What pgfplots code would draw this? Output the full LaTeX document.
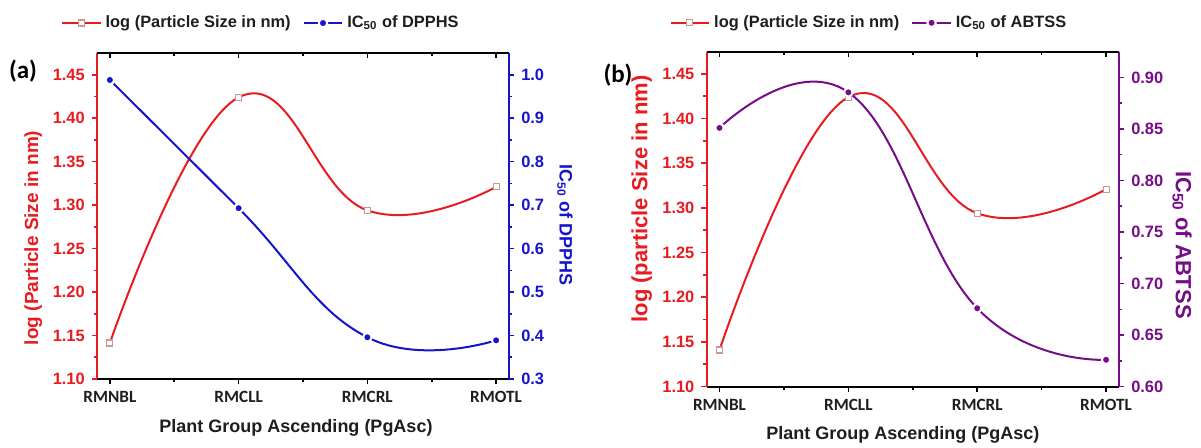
\documentclass[border=0pt]{standalone}
\usepackage{fontspec}
\setmainfont{Liberation Sans}
\newfontfamily\carlito{Carlito}
\usepackage{pgfplots}
\pgfplotsset{compat=1.18}

\definecolor{cred}{RGB}{232,28,32}
\definecolor{cblue}{RGB}{20,20,205}
\definecolor{cpurp}{RGB}{118,12,135}
\definecolor{sqedge}{RGB}{205,150,150}
\definecolor{txt}{RGB}{30,30,30}

\pgfplotsset{
  base/.style={scale only axis, xmin=-0.1, xmax=3.1,
    /pgf/number format/assume math mode=true,
    tick label style={font=\bfseries\fontsize{8.2}{9}\selectfont},
    major tick length=2.6pt, minor tick length=1.6pt,
    every tick/.append style={line width=0.8pt},
    axis line style={line width=1pt,-},
    xtick={0,1,2,3}, minor xtick={0.5,1.5,2.5}},
  xcats/.style={xticklabels={RMNBL,RMCLL,RMCRL,RMOTL},
    xticklabel style={font=\carlito\bfseries\fontsize{8.6}{9}\selectfont, txt},
    xtick style={black}},
  topticks/.style={base, axis x line*=top, axis y line=none, tick align=inside,
    xticklabels={}, ymin=0, ymax=1, x axis line style={black}, xtick style={black}},
  sizeline/.style={cred, line width=1pt, smooth, tension=0.75, mark=square*, mark size=1.5pt,
    mark options={fill=white, draw=sqedge, line width=0.6pt}},
  dotline/.style={#1, line width=1pt, smooth, tension=0.75, mark=*, mark size=2.1pt,
    mark options={fill=#1, draw=white, line width=1pt}},
  legimg/.style={legend image code/.code={
    \draw[mark repeat=2,mark phase=2,##1] plot coordinates {(0cm,0cm)(0.34cm,0cm)(0.68cm,0cm)};}},
}

\begin{document}
\begin{tikzpicture}
\useasboundingbox (0,0) rectangle (600.5pt,223.5pt);

% ---------- panel (a)
\begin{axis}[base, xcats, at={(48.5pt,34pt)}, anchor=south west, width=206pt, height=163pt,
  axis x line*=bottom, axis y line*=left, tick align=outside,
  x axis line style={black}, y axis line style={cred},
  ymin=1.10, ymax=1.475, ytick={1.10,1.15,1.20,1.25,1.30,1.35,1.40,1.45},
  minor ytick={1.125,1.175,1.225,1.275,1.325,1.375,1.425},
  ytick style={cred},
  yticklabel style={cred, /pgf/number format/.cd, fixed, fixed zerofill, precision=2},
  xlabel={Plant Group Ascending (PgAsc)},
  xlabel style={at={(axis description cs:0.483,-0.150)}, anchor=center, txt,
    font=\bfseries\fontsize{9}{10}\selectfont},
  ylabel={log (Particle Size in nm)},
  ylabel style={at={(axis description cs:-0.155,0.433)}, anchor=center, cred,
    font=\bfseries\fontsize{9.5}{10}\selectfont}]
\addplot[sizeline] coordinates {(0,1.1415)(1,1.424)(2,1.294)(3,1.321)};
\end{axis}

\begin{axis}[base, at={(48.5pt,34pt)}, anchor=south west, width=206pt, height=163pt,
  axis x line=none, axis y line*=right, tick align=outside,
  y axis line style={cblue},
  ymin=0.3, ymax=1.05, ytick={0.3,0.4,0.5,0.6,0.7,0.8,0.9,1.0},
  minor ytick={0.35,0.45,0.55,0.65,0.75,0.85,0.95},
  ytick style={cblue},
  yticklabel style={cblue, /pgf/number format/.cd, fixed, fixed zerofill, precision=1},
  ylabel={IC\textsubscript{50} of DPPHS},
  ylabel style={rotate=180, at={(axis description cs:1.136,0.472)}, anchor=center, cblue,
    font=\bfseries\fontsize{9}{10}\selectfont},
  legimg,
  legend style={at={(axis description cs:0.40,1.092)}, anchor=center, draw=none, fill=none,
    legend columns=2, font=\bfseries\fontsize{8.2}{9}\selectfont, text=txt,
    /tikz/every even column/.append style={column sep=4pt}}]
\addlegendimage{sizeline}
\addlegendentry{log (Particle Size in nm)}
\addplot[dotline=cblue] coordinates {(0,0.988)(1,0.693)(2,0.396)(3,0.389)};
\addlegendentry{IC\textsubscript{50} of DPPHS}
\end{axis}

\begin{axis}[topticks, at={(48.5pt,34pt)}, anchor=south west, width=206pt, height=163pt]
\end{axis}

% ---------- panel (b)
\begin{axis}[base, xcats, at={(353.3pt,30.2pt)}, anchor=south west, width=206.2pt, height=167.5pt,
  axis x line*=bottom, axis y line*=left, tick align=outside,
  x axis line style={black}, y axis line style={cred},
  ymin=1.10, ymax=1.475, ytick={1.10,1.15,1.20,1.25,1.30,1.35,1.40,1.45},
  minor ytick={1.125,1.175,1.225,1.275,1.325,1.375,1.425},
  ytick style={cred},
  yticklabel style={cred, /pgf/number format/.cd, fixed, fixed zerofill, precision=2},
  xlabel={Plant Group Ascending (PgAsc)},
  xlabel style={at={(axis description cs:0.476,-0.144)}, anchor=center, txt,
    font=\bfseries\fontsize{9}{10}\selectfont},
  ylabel={log (particle Size in nm)},
  ylabel style={at={(axis description cs:-0.157,0.56)}, anchor=center, cred,
    font=\bfseries\fontsize{11}{12}\selectfont}]
\addplot[sizeline] coordinates {(0,1.141)(1,1.424)(2,1.294)(3,1.321)};
\end{axis}

\begin{axis}[base, at={(353.3pt,30.2pt)}, anchor=south west, width=206.2pt, height=167.5pt,
  axis x line=none, axis y line*=right, tick align=outside,
  y axis line style={cpurp},
  ymin=0.6, ymax=0.925, ytick={0.60,0.65,0.70,0.75,0.80,0.85,0.90},
  minor ytick={0.625,0.675,0.725,0.775,0.825,0.875},
  ytick style={cpurp},
  yticklabel style={cpurp, /pgf/number format/.cd, fixed, fixed zerofill, precision=2},
  ylabel={IC\textsubscript{50} of ABTSS},
  ylabel style={rotate=180, at={(axis description cs:1.153,0.423)}, anchor=center, cpurp,
    font=\bfseries\fontsize{11}{12}\selectfont},
  legimg,
  legend style={at={(axis description cs:0.396,1.086)}, anchor=center, draw=none, fill=none,
    legend columns=2, font=\bfseries\fontsize{8.2}{9}\selectfont, text=txt,
    /tikz/every even column/.append style={column sep=4pt}}]
\addlegendimage{sizeline}
\addlegendentry{log (Particle Size in nm)}
\addplot[dotline=cpurp] coordinates {(0,0.851)(1,0.8855)(2,0.676)(3,0.626)};
\addlegendentry{IC\textsubscript{50} of ABTSS}
\end{axis}

\begin{axis}[topticks, at={(353.3pt,30.2pt)}, anchor=south west, width=206.2pt, height=167.5pt]
\end{axis}

\node[font=\carlito\bfseries\fontsize{12.5}{14}\selectfont] at (11.5pt,188pt) {(a)};
\node[font=\carlito\bfseries\fontsize{12.5}{14}\selectfont] at (309pt,186pt) {(b)};
\end{tikzpicture}
\end{document}
